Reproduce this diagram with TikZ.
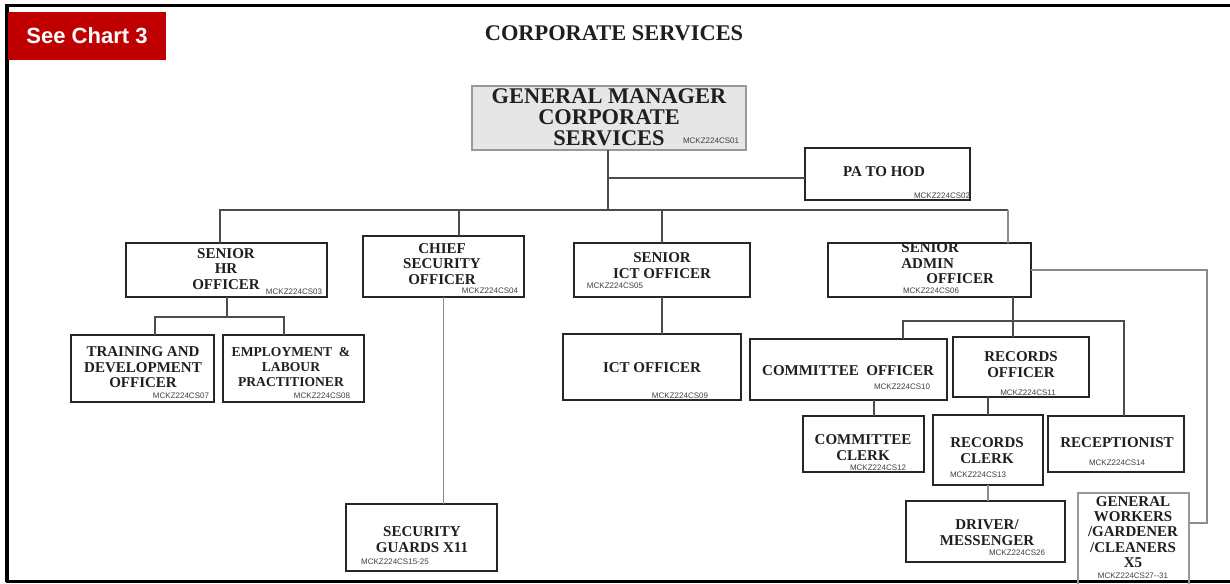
\documentclass[tikz,border=0pt]{standalone}
\usepackage{fontspec}
\setmainfont{Liberation Serif}
\newfontfamily\codefont{Liberation Sans}
\usetikzlibrary{calc}
\definecolor{btnred}{HTML}{C00000}
\definecolor{gmfill}{HTML}{E6E6E6}
\tikzset{
  box/.style={draw=black!85, line width=1pt, fill=white, inner sep=0pt, outer sep=0pt},
  gbox/.style={draw=black!40, line width=1pt, inner sep=0pt, outer sep=0pt},
  lbl/.style={font=\bfseries\fontsize{7.5}{7.7}\selectfont, align=center, text=black!88, inner sep=0pt},
  slbl/.style={font=\bfseries\fontsize{6.8}{7.5}\selectfont, align=center, text=black!88, inner sep=0pt},
  code/.style={font=\codefont\fontsize{4}{4.5}\selectfont, text=black!75, inner sep=0pt},
  conn/.style={draw=black!70, line width=1pt},
  lconn/.style={draw=black!45, line width=0.6pt},
  frame/.style={draw=black},
}
\newcommand\boxat[6]{\node[#6,minimum width={(#4-#2)*0.5pt},minimum height={(#5-#3)*0.5pt}] (#1) at ({(#2+#4)/2},{(#3+#5)/2}) {};}
\begin{document}
\begin{tikzpicture}[x=0.5pt,y=-0.5pt]
\useasboundingbox (0,0) rectangle (1230,583);
\fill[white] (0,0) rectangle (1230,583);
% frame
\draw[frame,line width=1.5pt] (5,5.5) -- (1230,5.5);
\draw[frame,line width=2pt] (7,5) -- (7,582);
\draw[frame,line width=1.2pt] (6,581.5) -- (1230,581.5);
% button
\node[fill=btnred, minimum width=79pt, minimum height=24pt, inner sep=0pt,
      font=\codefont\bfseries\fontsize{11}{12}\selectfont, text=white] (btn) at (87,36) {See Chart 3};
% title
\node[font=\bfseries\fontsize{11.2}{12}\selectfont, text=black!88, inner sep=0pt] (title) at (614,33) {CORPORATE SERVICES};
% boxes
\boxat{gm}{472}{86}{746}{150}{gbox,fill=gmfill}
\node[font=\bfseries\fontsize{11.2}{10.5}\selectfont, align=center, text=black!88, inner sep=0pt] (gmt) at (609,117) {GENERAL MANAGER\\CORPORATE\\SERVICES};
\node[code] (gmc) at (711,141) {MCKZ224CS01};

\boxat{pa}{805}{148}{970}{200}{box}
\node[lbl] (pat) at (884,172) {PA TO HOD};
\node[code] (pac) at (942,196) {MCKZ224CS02};

\boxat{hr}{126}{243}{327}{297}{box}
\node[lbl] (hrt) at (226,269) {SENIOR\\HR\\OFFICER};
\node[code] (hrc) at (294,292) {MCKZ224CS03};

\boxat{sec}{363}{236}{524}{297}{box}
\node[lbl] (sect) at (442,264) {CHIEF\\SECURITY\\OFFICER};
\node[code] (secc) at (490,291) {MCKZ224CS04};

\boxat{sict}{574}{243}{750}{297}{box}
\node[lbl] (sictt) at (662,265.5) {SENIOR\\ICT OFFICER};
\node[code] (sictc) at (615,286) {MCKZ224CS05};

\boxat{adm}{828}{243}{1031}{297}{box}
\node[lbl, align=left, anchor=west] (admt) at (901,263.5) {SENIOR\\ADMIN\\\hspace{12.5pt}OFFICER};
\node[code] (admc) at (931,291) {MCKZ224CS06};

\boxat{tr}{71}{335}{214}{402}{box}
\node[lbl] (trt) at (143,367.5) {TRAINING AND\\DEVELOPMENT\\OFFICER};
\node[code] (trc) at (181,396) {MCKZ224CS07};

\boxat{emp}{223}{335}{364}{402}{box}
\node[slbl] (empt) at (291,367.5) {EMPLOYMENT\ \ \&\\LABOUR\\PRACTITIONER};
\node[code] (empc) at (322,396) {MCKZ224CS08};

\boxat{ict}{563}{334}{741}{400}{box}
\node[lbl] (ictt) at (652,368) {ICT OFFICER};
\node[code] (ictc) at (680,396) {MCKZ224CS09};

\boxat{sg}{346}{504}{497}{571}{box}
\node[lbl] (sgt) at (422,539.5) {SECURITY\\GUARDS X11};
\node[code] (sgc) at (395,562) {MCKZ224CS15-25};

\boxat{co}{750}{339}{947}{400}{box}
\node[lbl] (cot) at (848,371) {COMMITTEE\ \ OFFICER};
\node[code] (coc) at (902,387) {MCKZ224CS10};

\boxat{ro}{953}{337}{1089}{397}{box}
\node[lbl] (rot) at (1021,364.5) {RECORDS\\OFFICER};
\node[code] (roc) at (1028,393) {MCKZ224CS11};

\boxat{cc}{803}{416}{924}{472}{box}
\node[lbl] (cct) at (863,447.5) {COMMITTEE\\CLERK};
\node[code] (ccc) at (878,468) {MCKZ224CS12};

\boxat{rc}{933}{415}{1043}{485}{box}
\node[lbl] (rct) at (987,450.5) {RECORDS\\CLERK};
\node[code] (rcc) at (978,475) {MCKZ224CS13};

\boxat{rec}{1048}{416}{1184}{472}{box}
\node[lbl] (rect) at (1117,443) {RECEPTIONIST};
\node[code] (recc) at (1117,463) {MCKZ224CS14};

\boxat{dm}{906}{501}{1065}{562}{box}
\node[lbl] (dmt) at (987,532.5) {DRIVER/\\MESSENGER};
\node[code] (dmc) at (1017,553) {MCKZ224CS26};

\boxat{gw}{1078}{493}{1189}{592}{gbox}
\node[lbl] (gwt) at (1133,532) {GENERAL\\WORKERS\\/GARDENER\\/CLEANERS\\X5};
\node[code] (gwc) at (1133,576) {MCKZ224CS27--31};

% connectors
\coordinate (b0) at (608,210);
\coordinate (h1) at (220,210);
\coordinate (s1) at (459,210);
\coordinate (a1) at (1008,210);
\coordinate (p0) at (608,178);
\draw[conn] (gm.south -| b0) -- (b0);
\draw[conn] (p0) -- (p0 -| pa.west);
\draw[conn] (h1 |- hr.north) -- (h1) -- (a1);
\draw[conn] (s1) -- (s1 |- sec.north);
\draw[conn] (b0 -| sict.north) -- (sict.north);
\draw[lconn] (a1) -- (a1 |- adm.north);
\draw[lconn] (sec.south) -- (sec.south |- sg.north);
% HR children
\coordinate (hl) at (155,317);
\coordinate (hrr) at (284,317);
\draw[conn] (hr.south) -- (hr.south |- hl);
\draw[conn] (hl |- tr.north) -- (hl) -- (hrr) -- (hrr |- emp.north);
% ICT
\draw[conn] (sict.south) -- (sict.south |- ict.north);
% admin children
\coordinate (ab) at (1013,321);
\coordinate (al) at (903,321);
\coordinate (ar) at (1124,321);
\draw[conn] (ab |- adm.south) -- (ab |- ro.north);
\draw[conn] (al |- co.north) -- (al) -- (ar) -- (ar |- rec.north);
\coordinate (ck) at (874,400);
\draw[conn] (ck |- co.south) -- (ck |- cc.north);
\draw[conn] (rc.north |- ro.south) -- (rc.north);
\draw[lconn] (rc.south) -- (rc.south |- dm.north);
\coordinate (g1) at (1207,523);
\draw[lconn] (adm.east) -| (g1) -- (g1 -| gw.east);
\end{tikzpicture}
\end{document}
